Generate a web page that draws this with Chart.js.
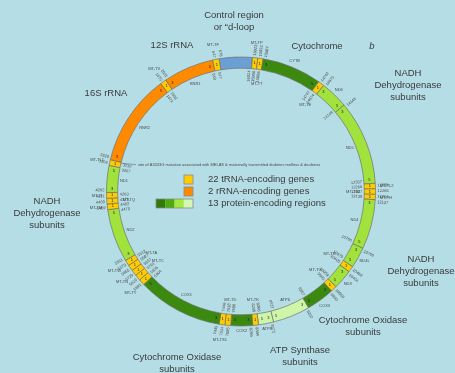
<!DOCTYPE html>
<html>
<head>
<meta charset="utf-8">
<script src="https://cdn.jsdelivr.net/npm/chart.js@4.4.1/dist/chart.umd.min.js"></script>
<style>
  html, body { margin: 0; padding: 0; background: #b4dde6; }
  canvas { display: block; }
</style>
</head>
<body>
<canvas id="mtmap" width="455" height="373"></canvas>
<script>
// Human mitochondrial genome, segments listed clockwise from the control region
const segmentNames = [
  'D-loop', 'MT-TP', 'MT-TT', 'CYTB', 'MT-TE', 'ND6', 'ND5', 'MT-TL2', 'MT-TS2', 'MT-TH',
  'ND4', 'ND4L', 'MT-TR', 'ND3', 'MT-TG', 'COX3', 'ATP6', 'ATP8', 'MT-TK', 'COX2',
  'MT-TD', 'MT-TS1', 'COX1', 'MT-TY', 'MT-TC', 'MT-TN', 'MT-TA', 'MT-TW', 'ND2', 'MT-TM',
  'MT-TQ', 'MT-TI', 'ND1', 'MT-TL1', 'RNR2', 'MT-TV', 'RNR1', 'MT-TF'
];
const segmentKinds = [
  'dloop', 'trna', 'trna', 'cox', 'trna', 'nd', 'nd', 'trna', 'trna', 'trna',
  'nd', 'nd', 'trna', 'nd', 'trna', 'cox', 'atp', 'atp', 'trna', 'cox',
  'trna', 'trna', 'cox', 'trna', 'trna', 'trna', 'trna', 'trna', 'nd', 'trna',
  'trna', 'trna', 'nd', 'trna', 'rrna', 'trna', 'rrna', 'trna'
];
// angular extent of each segment on the schematic ring, in degrees
const segmentSpan = [
  14.3, 2.3, 2.3, 25.8, 2.6, 12.1, 36.5, 2.35, 2.35, 2.3,
  21.5, 9.0, 2.6, 8.5, 2.6, 12.2, 16.1, 6.5, 2.5, 9.4,
  2.5, 2.5, 36.9, 2.6, 2.6, 2.6, 2.6, 2.5, 23.0, 2.45,
  2.45, 2.5, 11.6, 2.5, 39.7, 2.6, 21.8, 2.8
];
// genome coordinates (bp) of each segment
const segmentStart = [
  16024, 15956, 15888, 14747, 14674, 14149, 12337, 12266, 12207, 12138,
  10760, 10470, 10405, 10059, 9991, 9207, 8527, 8366, 8295, 7586,
  7518, 7446, 5904, 5826, 5761, 5657, 5587, 5512, 4470, 4402,
  4329, 4263, 3307, 3230, 1671, 1602, 648, 577
];
const segmentEnd = [
  576, 16023, 15953, 15887, 14742, 14673, 14148, 12336, 12265, 12206,
  12137, 10766, 10469, 10404, 10058, 9990, 9207, 8572, 8364, 8269,
  7585, 7514, 7445, 5891, 5826, 5729, 5655, 5579, 5511, 4469,
  4400, 4331, 4262, 3304, 3229, 1670, 1601, 647
];
const legendLabels = ['22 tRNA-encoding genes', '2 rRNA-encoding genes', '13 protein-encoding regions'];
const mutationNote = 'site of A3243G mutation associated with MELAS & maternally transmitted diabetes mellitus & deafness';
const mutationPosition = 3243;

// which side of the ring the small name labels sit on
const labelSide = {
  'MT-TF': 'out', 'MT-TV': 'out', 'MT-TL1': 'out', 'MT-TI': 'out', 'MT-TQ': 'in', 'MT-TM': 'out',
  'MT-TW': 'out', 'MT-TA': 'in', 'MT-TN': 'out', 'MT-TC': 'in', 'MT-TY': 'out', 'MT-TS1': 'out',
  'MT-TD': 'in', 'MT-TK': 'in', 'MT-TG': 'in', 'MT-TR': 'in', 'MT-TH': 'out', 'MT-TS2': 'in',
  'MT-TL2': 'out', 'MT-TE': 'in', 'MT-TT': 'in', 'MT-TP': 'out',
  'RNR1': 'in', 'RNR2': 'in', 'ND1': 'in', 'ND2': 'in', 'COX1': 'in', 'COX2': 'out',
  'ATP8': 'out', 'ATP6': 'in', 'COX3': 'out', 'ND3': 'out', 'ND4L': 'out', 'ND4': 'in',
  'ND5': 'in', 'ND6': 'out', 'CYTB': 'out'
};

const kindColors = {
  dloop: '#6c9fd3', trna: '#ffcc00', rrna: '#ff8a00',
  cox: '#3b8a0f', nd: '#a2e23c', atp: '#cff5a8'
};
const legendGreens = ['#2e7b06', '#4faa0c', '#a2ea3c', '#d3f8b4'];

// headings placed around the ring
const headings = [
  { lines: ['Control region', 'or \u201cd-loop'], x: 234, y: 15 },
  { lines: ['12S rRNA'], x: 172, y: 45 },
  { lines: ['16S rRNA'], x: 106, y: 93 },
  { lines: ['Cytochrome'], x: 317, y: 46 },
  { lines: ['NADH', 'Dehydrogenase', 'subunits'], x: 408, y: 73 },
  { lines: ['NADH', 'Dehydrogenase', 'subunits'], x: 47, y: 201 },
  { lines: ['NADH', 'Dehydrogenase', 'subunits'], x: 421, y: 259 },
  { lines: ['Cytochrome Oxidase', 'subunits'], x: 363, y: 320 },
  { lines: ['ATP Synthase', 'subunits'], x: 300, y: 350 },
  { lines: ['Cytochrome Oxidase', 'subunits'], x: 177, y: 357 }
];

const SMALL_FONT = '4px "Liberation Sans", Arial, sans-serif';
const TEXT_FONT = '9.5px "Liberation Sans", Arial, sans-serif';

function radialText(ctx, cx, cy, text, a, r, outward) {
  ctx.save();
  ctx.translate(cx + r * Math.cos(a), cy + r * Math.sin(a));
  let rot = a;
  let align = outward ? 'left' : 'right';
  if (Math.cos(a) < -0.001) { rot = a + Math.PI; align = outward ? 'right' : 'left'; }
  ctx.rotate(rot);
  ctx.textAlign = align;
  ctx.textBaseline = 'middle';
  ctx.fillText(text, 0, 0);
  ctx.restore();
}

function placeLabel(ctx, cx, cy, text, a, rEdge, outward, gap, lift) {
  const w = ctx.measureText(text).width;
  const d = gap + Math.abs(Math.cos(a)) * w / 2 + Math.abs(Math.sin(a)) * lift;
  const r = outward ? rEdge + d : rEdge - d;
  ctx.textAlign = 'center';
  ctx.textBaseline = 'middle';
  ctx.fillText(text, cx + r * Math.cos(a), cy + r * Math.sin(a));
}

const ringLabels = {
  id: 'ringLabels',
  afterDatasetsDraw(chart) {
    const ctx = chart.ctx;
    const arcs = chart.getDatasetMeta(0).data.map(el =>
      el.getProps(['x', 'y', 'startAngle', 'endAngle', 'innerRadius', 'outerRadius'], true));
    const cx = arcs[0].x, cy = arcs[0].y;
    const R = arcs[0].outerRadius, r0 = arcs[0].innerRadius;
    const rMid = (R + r0) / 2;
    ctx.save();
    ctx.font = SMALL_FONT;

    // strand-end markers inside the band
    ctx.fillStyle = '#1c1c1c';
    arcs.forEach((p, i) => {
      ctx.textAlign = 'center';
      ctx.textBaseline = 'middle';
      if (segmentKinds[i] === 'trna') {
        const m = (p.startAngle + p.endAngle) / 2;
        ctx.fillText('1', cx + rMid * Math.cos(m), cy + rMid * Math.sin(m));
      } else if (segmentKinds[i] !== 'dloop') {
        const a1 = p.startAngle + 4 / rMid, a2 = p.endAngle - 4 / rMid;
        ctx.fillText('3', cx + rMid * Math.cos(a1), cy + rMid * Math.sin(a1));
        ctx.fillText('5', cx + rMid * Math.cos(a2), cy + rMid * Math.sin(a2));
      }
    });

    // boundary coordinates
    ctx.fillStyle = '#4a4a4a';
    arcs.forEach((p, i) => {
      const j = (i + 1) % arcs.length;
      const b = p.endAngle;
      radialText(ctx, cx, cy, String(segmentStart[i]), b - 2.2 / r0, r0 - 2, false);
      radialText(ctx, cx, cy, String(segmentEnd[j]), b + 2.2 / R, R + 2, true);
    });

    // gene and tRNA names
    arcs.forEach((p, i) => {
      const name = segmentNames[i];
      const side = labelSide[name];
      if (!side) return;
      const m = (p.startAngle + p.endAngle) / 2;
      const outward = side === 'out';
      if (segmentKinds[i] === 'trna') {
        placeLabel(ctx, cx, cy, name, m, outward ? R : r0, outward, 4, 10);
      } else {
        placeLabel(ctx, cx, cy, name, m, outward ? R : r0, outward, 1.5, 3);
      }
    });

    // A3243G note with leader line
    const li = segmentNames.indexOf('MT-TL1');
    const lp = arcs[li];
    const f = (segmentEnd[li] - mutationPosition) / (segmentEnd[li] - segmentStart[li]);
    const ma = lp.startAngle + f * (lp.endAngle - lp.startAngle);
    const ax = cx + r0 * Math.cos(ma), ay = cy + r0 * Math.sin(ma);
    ctx.strokeStyle = '#555';
    ctx.lineWidth = 0.5;
    ctx.beginPath();
    ctx.moveTo(ax, ay);
    ctx.lineTo(ax + 15, ay + 1.5);
    ctx.stroke();
    ctx.textAlign = 'left';
    ctx.textBaseline = 'middle';
    ctx.fillText(mutationNote, ax + 17, ay + 1.5);

    // legend
    ctx.font = TEXT_FONT;
    const lx = cx - 57, rows = [cy - 12, cy, cy + 12];
    const swatches = [kindColors.trna, kindColors.rrna];
    ctx.lineWidth = 0.8;
    ctx.strokeStyle = '#8a8a8a';
    swatches.forEach((c, k) => {
      ctx.fillStyle = c;
      ctx.fillRect(lx, rows[k] - 4.5, 9, 9);
      ctx.strokeRect(lx, rows[k] - 4.5, 9, 9);
    });
    legendGreens.forEach((c, k) => {
      const bx = lx - 28 + k * 9.25;
      ctx.fillStyle = c;
      ctx.fillRect(bx, rows[2] - 4.5, 9.25, 9);
    });
    ctx.strokeRect(lx - 28, rows[2] - 4.5, 37, 9);
    ctx.fillStyle = '#3a3a3a';
    legendLabels.forEach((t, k) => {
      ctx.textAlign = 'left';
      ctx.textBaseline = 'middle';
      ctx.fillText(t, lx + 24, rows[k]);
    });

    // headings
    ctx.fillStyle = '#3a3a3a';
    ctx.textAlign = 'center';
    headings.forEach(h => {
      h.lines.forEach((t, k) => ctx.fillText(t, h.x, h.y + k * 12));
    });
    ctx.font = 'italic ' + TEXT_FONT;
    ctx.fillText('b', 372, 46);
    ctx.restore();
  }
};

new Chart(document.getElementById('mtmap'), {
  type: 'doughnut',
  data: {
    labels: segmentNames,
    datasets: [{
      data: segmentSpan,
      backgroundColor: segmentKinds.map(k => kindColors[k]),
      borderColor: '#707070',
      borderWidth: 0.7,
      hoverOffset: 0
    }]
  },
  options: {
    responsive: false,
    animation: false,
    events: [],
    rotation: -9.4,
    radius: 134.5,
    cutout: 123,
    layout: { padding: { left: 106, right: 79, top: 57, bottom: 47 } },
    plugins: { legend: { display: false }, tooltip: { enabled: false } }
  },
  plugins: [ringLabels]
});
</script>
</body>
</html>
